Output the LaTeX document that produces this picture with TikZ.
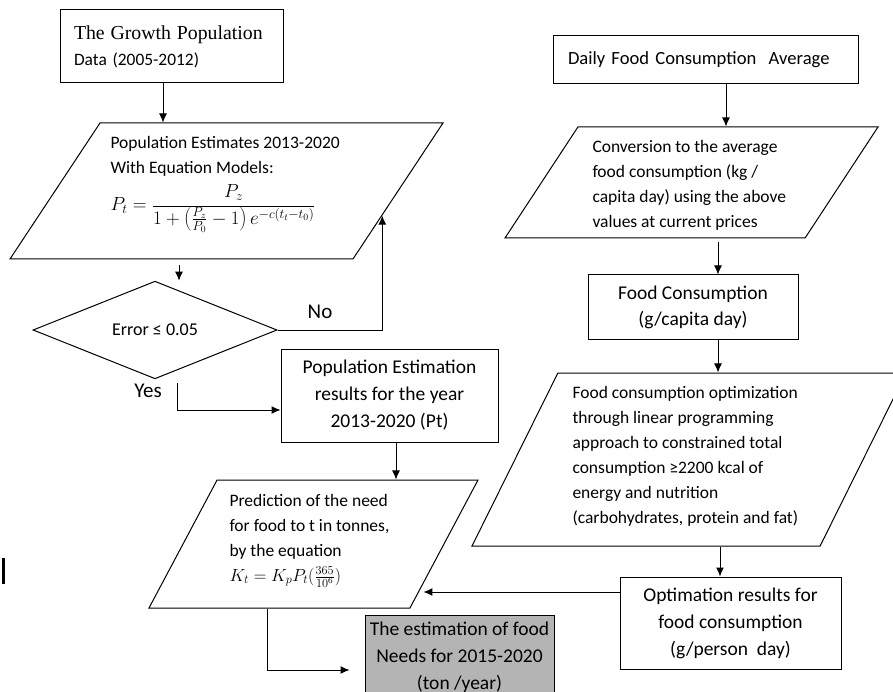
\documentclass[tikz,border=0pt]{standalone}
\usepackage{fix-cm}
\usepackage{fontspec}
\setmainfont{Carlito}
\newfontfamily\headfont{Liberation Serif}
\usetikzlibrary{shapes.geometric,arrows.meta,calc}
\definecolor{boxgray}{RGB}{180,180,180}

\begin{document}
\begin{tikzpicture}[x=1pt,y=-1pt,line width=1pt,
    box/.style={draw,rectangle,inner sep=0pt,align=center,font=\fontsize{19.5}{27}\selectfont},
    para/.style={draw,trapezium,trapezium stretches body,inner sep=0pt},
    ptext/.style={anchor=north west,inner sep=0pt,align=left,font=\fontsize{17.5}{25}\selectfont},
    arr/.style={-{Latex[length=9pt,width=8pt]}},
    lbl/.style={font=\fontsize{21}{24}\selectfont}]
\useasboundingbox (0,0) rectangle (893,692);

% left column
\node[box,minimum width=223pt,minimum height=73pt,text width=195pt,align=left,font=\fontsize{17.4}{26}\selectfont] (grow) at (171.5,46.5)
    {{\headfont\fontsize{19.8}{22}\selectfont The Growth Population}\\Data (2005-2012)};
\node[para,trapezium left angle=56.5,trapezium right angle=123.5,minimum width=433pt] (estim) at (226.5,191) {\rule{0pt}{136pt}};
\node[ptext] (estimtxt) at (110,135.5)
    {Population Estimates 2013-2020\\With Equation Models:\\[8pt]
     {\fontsize{19}{25}\selectfont$\displaystyle P_t=\frac{P_z}{1+\left({\textstyle\frac{P_z}{P_0}}-1\right)e^{-c(t_t-t_0)}}$}};
\node[draw,diamond,inner sep=0pt,minimum width=244pt,minimum height=65pt,font=\fontsize{18}{20}\selectfont] (err) at (155,330) {Error ≤ 0.05};
\node[lbl] (no)  at (320,312) {No};
\node[lbl] (yes) at (148,391) {Yes};
\node[box,minimum width=217pt,minimum height=93pt] (popres) at (389.5,395.5)
    {Population Estimation\\results for the year\\2013-2020 (Pt)};
\node[para,trapezium left angle=62,trapezium right angle=118,minimum width=329pt] (need) at (313.5,544) {\rule{0pt}{128pt}};
\node[ptext] (needtxt) at (229,493.5)
    {Prediction of the need\\for food to t in tonnes,\\by the equation\\$K_t=K_pP_t(\frac{365}{10^6})$};
\node[box,fill=boxgray,minimum width=189pt,minimum height=84pt] (needs) at (459.5,657)
    {The estimation of food\\Needs for 2015-2020\\(ton /year)};

% right column
\node[box,minimum width=305pt,minimum height=48pt,text width=275pt,align=left,font=\fontsize{18.6}{20}\selectfont] (daily) at (705.5,60)
    {Daily Food Consumption\ \ Average};
\node[para,trapezium left angle=56.7,trapezium right angle=123.3,minimum width=373pt] (conv) at (691.5,182.5) {\rule{0pt}{111pt}};
\node[ptext] (convtxt) at (592,139.5)
    {Conversion to the average\\food consumption (kg /\\capita day) using the above\\values at current prices};
\node[box,minimum width=210pt,minimum height=64pt,font=\fontsize{19.5}{26}\selectfont] (cons) at (693,307)
    {Food Consumption\\(g/capita day)};
\node[para,trapezium left angle=63.6,trapezium right angle=116.4,minimum width=434pt] (optim) at (689,459.5) {\rule{0pt}{173pt}};
\node[ptext] (optimtxt) at (572,385.5)
    {Food consumption optimization\\through linear programming\\approach to constrained total\\consumption ≥2200 kcal of\\energy and nutrition\\(carbohydrates, protein and fat)};
\node[box,minimum width=221pt,minimum height=92pt] (optres) at (730.5,623)
    {Optimation results for\\food consumption\\(g/person\ \ day)};

% stray bar at the left
\draw[line width=3pt] (3,558) -- (3,584);

% connectors
\coordinate (noend)   at ($(estim.bottom right corner)!0.32!(estim.top right corner)$);
\coordinate (needend) at ($(need.bottom right corner)!0.12!(need.top right corner)$);
\draw[arr] (grow.south -| 163,0) -- (estim.north -| 163,0);
\draw[arr,shorten <=6pt] (estim.south -| 179,0) -- (err.north -| 179,0);
\draw[arr] (err.east) -| (noend);
\draw[arr,shorten <=4pt] (err.south -| 177,0) |- (popres.west |- 0,410);
\draw[arr] (popres.south -| 396,0) -- (need.north -| 396,0);
\draw[arr,shorten >=15pt] (need.south -| 267,0) |- (needs.west |- 0,670);
\draw[arr] (daily.south -| 726,0) -- (conv.north -| 726,0);
\draw[arr,shorten <=4pt] (conv.south -| 718,0) -- (cons.north -| 718,0);
\draw[arr] (cons.south -| 718,0) -- (optim.north -| 718,0);
\draw[arr] (optim.south -| 720,0) -- (optres.north -| 720,0);
\draw[arr,shorten >=5pt] (optres.west |- 0,592) -- (needend |- 0,592);
\end{tikzpicture}
\end{document}
